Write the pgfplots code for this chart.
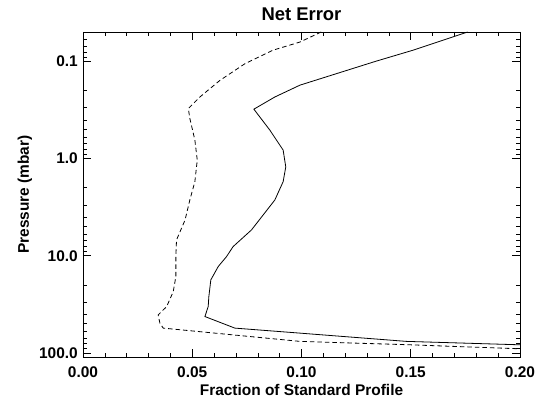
\documentclass[border=0pt]{standalone}
\usepackage{fontspec}
\setmainfont{Liberation Sans}
\usepackage{pgfplots}
\pgfplotsset{compat=1.18}
\begin{document}
\begin{tikzpicture}
\begin{axis}[
  scale only axis,
  width=437bp, height=325bp,
  xmin=0, xmax=0.2,
  ymode=log, y dir=reverse,
  ymin=0.05, ymax=110,
  xtick={0,0.05,0.1,0.15,0.2},
  xticklabels={0.00,0.05,0.10,0.15,0.20},
  minor x tick num=4,
  ytick={0.1,1,10,100},
  yticklabels={0.1,1.0,10.0,100.0},
  minor ytick={0.06,0.07,0.08,0.09,0.2,0.3,0.4,0.5,0.6,0.7,0.8,0.9,2,3,4,5,6,7,8,9,20,30,40,50,60,70,80,90},
  tick align=inside,
  major tick length=8bp,
  minor tick length=4bp,
  tick style={black, line width=0.6bp},
  axis line style={line width=0.8bp},
  ticklabel style={font=\fontsize{15.5}{17}\selectfont\bfseries},
  xticklabel style={anchor=north, inner sep=0pt, yshift=-9.5bp},
  yticklabel style={anchor=east, inner sep=0pt, xshift=-5bp},
  title={Net Error},
  title style={at={([yshift=6bp]axis description cs:0.5,1)}, anchor=base, font=\fontsize{18.5}{20}\selectfont\bfseries},
  xlabel={Fraction of Standard Profile},
  xlabel style={at={([yshift=-38bp]axis description cs:0.5,0)}, anchor=base, font=\fontsize{15.5}{17}\selectfont\bfseries},
  ylabel={Pressure (mbar)},
  ylabel style={at={([xshift=-54bp]axis description cs:0,0.5)}, anchor=base, rotate=0, font=\fontsize{15.5}{17}\selectfont\bfseries},
]
\addplot[black, line width=0.8bp] coordinates {
(0.176,0.05) (0.151,0.077) (0.134,0.1) (0.0993,0.176) (0.0878,0.233) (0.0782,0.311)
(0.0855,0.51) (0.0916,0.82) (0.0928,1.22) (0.0916,1.73) (0.0878,2.67) (0.0771,5.43)
(0.0687,8.05) (0.0657,10.2) (0.0619,12.9) (0.0585,17.7) (0.0576,26.3) (0.0573,33.3)
(0.0558,42.2) (0.0695,55.5) (0.0993,62.5) (0.148,76) (0.2,82.4)
};
\addplot[black, line width=0.8bp, dash pattern=on 4.5bp off 3bp] coordinates {
(0.109,0.05) (0.0993,0.0634) (0.0869,0.077) (0.0741,0.106) (0.0627,0.157) (0.0535,0.233)
(0.0482,0.306) (0.0489,0.387) (0.0512,0.647) (0.0523,1.04) (0.0512,1.73) (0.0489,2.67)
(0.0467,4.29) (0.0428,6.88) (0.0425,10.2) (0.0425,16.4) (0.0413,23.4) (0.0383,33.3)
(0.0344,40.6) (0.0352,49.3) (0.0367,55.5) (0.0993,76) (0.1496,82.4) (0.2,90.6)
};
\end{axis}
\path ([shift={(-83bp,-40bp)}]current axis.south west) rectangle ([shift={(16bp,32bp)}]current axis.north east);
\end{tikzpicture}
\end{document}
